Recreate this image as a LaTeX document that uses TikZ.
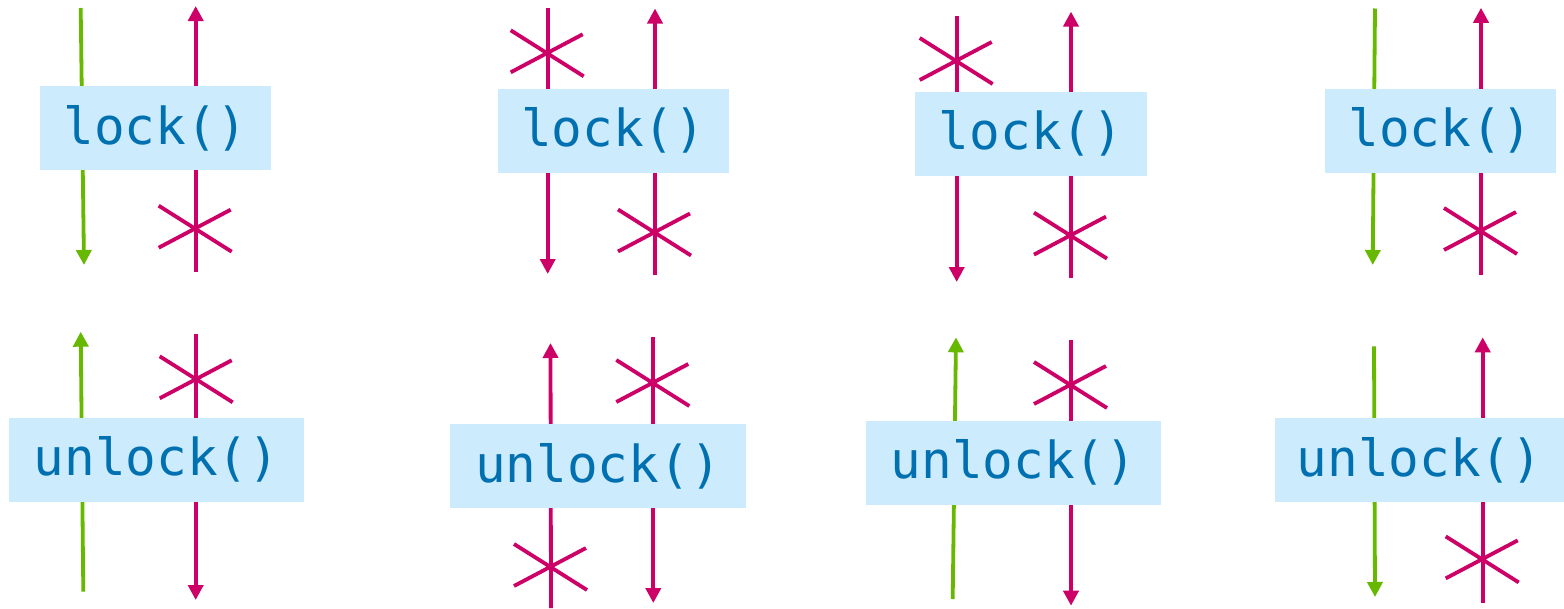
\documentclass[tikz,border=0pt]{standalone}
\usepackage{fontspec}
\newfontfamily\codefont{DejaVu Sans Mono}
\usetikzlibrary{arrows.meta}
\definecolor{grn}{RGB}{102,185,0}
\definecolor{mag}{RGB}{204,0,102}
\definecolor{boxc}{RGB}{204,235,252}
\definecolor{txtc}{RGB}{0,112,176}
\tikzset{
  ln/.style={line width=3.8pt},
  arr/.style={ln,-{Triangle[length=15pt,width=15pt]}},
  callbox/.style={fill=boxc,text=txtc,inner sep=0pt,minimum height=84pt,
    font=\codefont\fontsize{51}{51}\selectfont},
  asterisk/.pic={\draw[mag,line width=3.8pt] (-37,-22)--(36,24) (-37,20)--(35,-18);}
}
\begin{document}
\begin{tikzpicture}[x=1pt,y=-1pt]
\useasboundingbox (0,0) rectangle (1564,608);
% ---------- panel 1 ----------
\coordinate (p1a) at (80.7,8);    \coordinate (p1b) at (84,265);
\coordinate (p1c) at (195.7,272); \coordinate (p1d) at (195.7,6);
\coordinate (p1e) at (83.3,591.7);\coordinate (p1f) at (80.7,331.7);
\coordinate (p1g) at (195.7,334.3);\coordinate (p1h) at (195.7,600);
\draw[grn,arr] (p1a) -- (p1b);
\draw[mag,arr] (p1c) -- (p1d);
\draw[grn,arr] (p1e) -- (p1f);
\draw[mag,arr] (p1g) -- (p1h);
\pic at (195.7,227.7) {asterisk};
\pic at (196.7,378.3) {asterisk};
\node[callbox,minimum width=231pt] (l1) at (155.5,128) {lock()};
\node[callbox,minimum width=295pt] (u1) at (156.5,459.7) {unlock()};
% ---------- panel 2 ----------
\coordinate (p2a) at (547.7,8);   \coordinate (p2b) at (547.7,274);
\coordinate (p2c) at (655,275.3); \coordinate (p2d) at (655,8.5);
\coordinate (p2e) at (551,608);   \coordinate (p2f) at (550.5,343);
\coordinate (p2g) at (653.3,337.3);\coordinate (p2h) at (653.3,603);
\draw[mag,arr] (p2a) -- (p2b);
\draw[mag,arr] (p2c) -- (p2d);
\draw[mag,arr] (p2e) -- (p2f);
\draw[mag,arr] (p2g) -- (p2h);
\pic at (547.7,52.3) {asterisk};
\pic at (655,231.5) {asterisk};
\pic at (551,566) {asterisk};
\pic at (653.3,382) {asterisk};
\node[callbox,minimum width=231pt] (l2) at (613.3,130.8) {lock()};
\node[callbox,minimum width=296pt] (u2) at (598,465.9) {unlock()};
% ---------- panel 3 ----------
\coordinate (p3a) at (956.7,15.5); \coordinate (p3b) at (956.7,282);
\coordinate (p3c) at (1071,278);   \coordinate (p3d) at (1071,11.6);
\coordinate (p3e) at (952.7,599);  \coordinate (p3f) at (956,337.3);
\coordinate (p3g) at (1071,340.4); \coordinate (p3h) at (1071,605.7);
\draw[mag,arr] (p3a) -- (p3b);
\draw[mag,arr] (p3c) -- (p3d);
\draw[grn,arr] (p3e) -- (p3f);
\draw[mag,arr] (p3g) -- (p3h);
\pic at (956.7,60) {asterisk};
\pic at (1071,234.6) {asterisk};
\pic at (1071,384) {asterisk};
\node[callbox,minimum width=232pt] (l3) at (1031,133.8) {lock()};
\node[callbox,minimum width=295pt] (u3) at (1013.5,462.8) {unlock()};
% ---------- panel 4 ----------
\coordinate (p4a) at (1375,8.5);   \coordinate (p4b) at (1372.7,265);
\coordinate (p4c) at (1481,274.5); \coordinate (p4d) at (1481,7.8);
\coordinate (p4e) at (1374,346.3); \coordinate (p4f) at (1375,597);
\coordinate (p4g) at (1482.7,603); \coordinate (p4h) at (1482.7,337.3);
\draw[grn,arr] (p4a) -- (p4b);
\draw[mag,arr] (p4c) -- (p4d);
\draw[grn,arr] (p4e) -- (p4f);
\draw[mag,arr] (p4g) -- (p4h);
\pic at (1481,230) {asterisk};
\pic at (1482.7,558.4) {asterisk};
\node[callbox,minimum width=231pt] (l4) at (1440.5,130.8) {lock()};
\node[callbox,minimum width=289pt] (u4) at (1419.5,460) {unlock()};
\end{tikzpicture}
\end{document}
